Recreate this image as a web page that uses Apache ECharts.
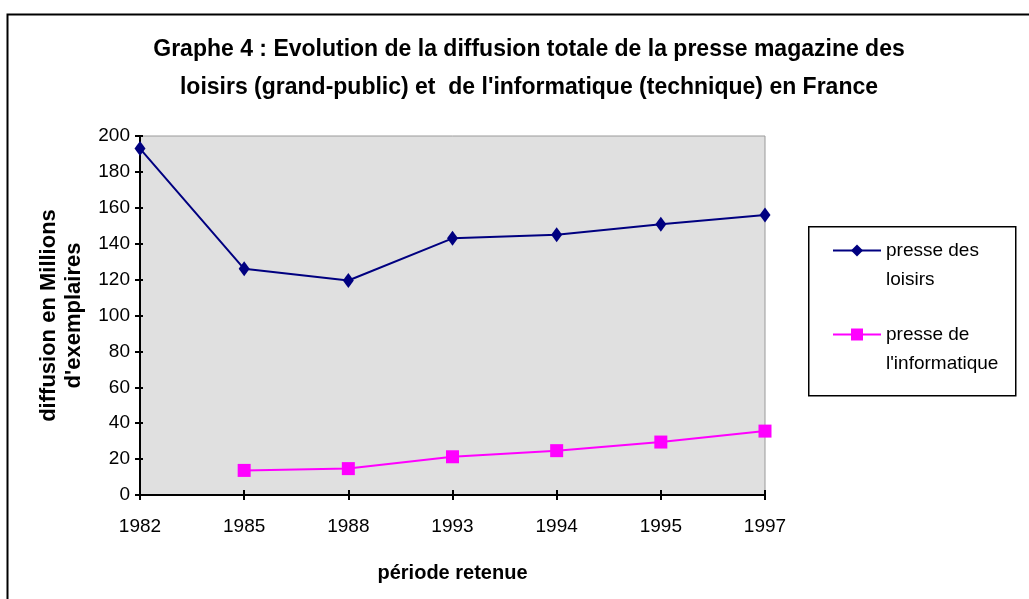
<!DOCTYPE html>
<html>
<head>
<meta charset="utf-8">
<script src="https://cdn.jsdelivr.net/npm/echarts@6/dist/echarts.min.js"></script>
<style>
  html, body { margin: 0; padding: 0; background: #fff; }
  #chart { width: 1029px; height: 599px; }
</style>
</head>
<body>
<div id="chart"></div>
<script>
// années retenues
var annees = ['1982', '1985', '1988', '1993', '1994', '1995', '1997'];
// diffusion en millions d'exemplaires
var presseLoisirs = [193, 126, 119.5, 143, 145, 150.8, 156];
var presseInformatique = [null, 13.7, 14.7, 21.3, 24.7, 29.5, 35.6];

var police = 'Liberation Sans, Arial, sans-serif';

var myChart = echarts.init(document.getElementById('chart'));

var option = {
    backgroundColor: '#fff',
    animation: false,
    title: {
        text: "Graphe 4 : Evolution de la diffusion totale de la presse magazine des\nloisirs (grand-public) et  de l'informatique (technique) en France",
        left: 524,
        top: 26,
        textAlign: 'center',
        textStyle: { fontFamily: police, fontSize: 23, fontWeight: 'bold', color: '#000', lineHeight: 38 }
    },
    graphic: [
        { type: 'rect', left: 5, top: 12, shape: { width: 1040, height: 600 }, style: { fill: 'none', stroke: '#000', lineWidth: 2 }, silent: true },
        { type: 'rect', left: 808, top: 226, shape: { width: 207, height: 169 }, style: { fill: '#fff', stroke: '#000', lineWidth: 1.5 }, silent: true, z: -1 }
    ],
    legend: {
        orient: 'vertical',
        left: 832,
        top: 207,
        padding: 0,
        itemWidth: 48,
        itemHeight: 15,
        itemGap: -3,
        data: ['presse des loisirs', "presse de l'informatique"],
        // ligne vide en tête pour aligner le symbole sur la première ligne du texte
        formatter: function (nom) {
            return nom == 'presse des loisirs' ? '\npresse des\nloisirs' : "\npresse de\nl'informatique";
        },
        textStyle: { fontFamily: police, fontSize: 19, color: '#000', lineHeight: 29 }
    },
    grid: {
        left: 140, right: 264, top: 136, bottom: 104,
        show: true, backgroundColor: '#e0e0e0', borderColor: '#9a9a9a', borderWidth: 1
    },
    xAxis: [
        {
            type: 'category',
            data: annees,
            boundaryGap: false,
            name: 'période retenue',
            nameLocation: 'middle',
            nameGap: 68,
            nameTextStyle: { fontFamily: police, fontSize: 20, fontWeight: 'bold', color: '#000' },
            axisLine: { lineStyle: { color: '#000', width: 2 } },
            axisTick: { show: true, length: 5, lineStyle: { color: '#000', width: 2 } },
            axisLabel: { fontFamily: police, fontSize: 19, color: '#000', margin: 22, interval: 0 },
            splitLine: { show: false }
        },
        {
            // graduations croisées (partie intérieure)
            type: 'category',
            data: annees,
            boundaryGap: false,
            position: 'bottom',
            axisLine: { show: false },
            axisTick: { show: true, inside: true, length: 5, lineStyle: { color: '#000', width: 2 } },
            axisLabel: { show: false },
            splitLine: { show: false }
        }
    ],
    yAxis: [
        {
            type: 'value',
            min: 0, max: 200, interval: 20,
            name: "diffusion en Millions\nd'exemplaires",
            nameLocation: 'middle',
            nameGap: 54,
            nameTextStyle: { fontFamily: police, fontSize: 22, fontWeight: 'bold', color: '#000', lineHeight: 25 },
            axisLine: { show: true, lineStyle: { color: '#000', width: 2 } },
            axisTick: { show: true, length: 5, lineStyle: { color: '#000', width: 2 } },
            axisLabel: { fontFamily: police, fontSize: 19, color: '#000', margin: 10 },
            splitLine: { show: false }
        },
        {
            type: 'value',
            min: 0, max: 200, interval: 20,
            position: 'left',
            axisLine: { show: false },
            axisTick: { show: true, inside: true, length: 3, lineStyle: { color: '#000', width: 2 } },
            axisLabel: { show: false },
            splitLine: { show: false }
        }
    ],
    series: [
        {
            name: 'presse des loisirs',
            type: 'line',
            data: presseLoisirs,
            symbol: 'diamond',
            symbolSize: [11, 15],
            itemStyle: { color: '#000080' },
            lineStyle: { color: '#000080', width: 2 }
        },
        {
            name: "presse de l'informatique",
            type: 'line',
            data: presseInformatique,
            symbol: 'rect',
            symbolSize: 13,
            itemStyle: { color: '#ff00ff' },
            lineStyle: { color: '#ff00ff', width: 2 }
        }
    ]
};

myChart.setOption(option);
</script>
</body>
</html>
